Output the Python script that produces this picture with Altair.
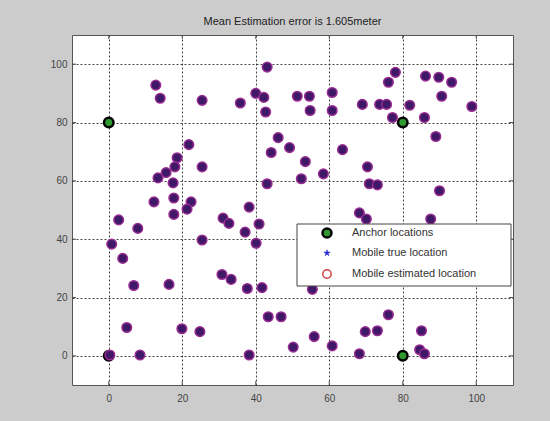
import altair as alt
import pandas as pd

title_text = "Mean Estimation error is 1.605meter"

mob_x = [43.1, 12.8, 14.0, 25.4, 35.8, 40.0, 42.2, 42.7, 51.3, 54.6, 54.8, 60.8, 60.8, 69.0, 73.7,
         75.6, 81.9, 78.0, 76.1, 86.2, 89.8, 93.3, 90.6, 98.8, 77.2, 85.9, 89.0, 63.6, 49.2, 53.5,
         52.4, 58.4, 70.4, 70.9, 73.1, 90.0, 68.2, 70.1, 87.6, 21.8, 46.1, 44.2, 18.6, 18.0, 25.4,
         15.6, 13.4, 17.5, 43.1, 12.3, 17.7, 22.4, 21.3, 17.7, 38.2, 31.1, 32.7, 40.9, 2.7, 7.9,
         0.8, 3.8, 6.8, 16.4, 25.4, 37.1, 40.1, 30.8, 33.3, 37.7, 41.7, 43.4, 46.9, 4.9, 19.9,
         24.8, 0.3, 8.5, 38.2, 50.2, 55.4, 76.1, 69.8, 73.1, 85.1, 55.9, 60.8, 68.2, 84.6, 85.9]
mob_y = [99.0, 92.8, 88.3, 87.6, 86.7, 90.0, 88.6, 83.6, 89.0, 89.0, 84.1, 90.3, 84.1, 86.2, 86.2,
         86.2, 85.9, 97.2, 93.8, 95.9, 95.5, 93.8, 89.0, 85.5, 81.7, 81.7, 75.2, 70.7, 71.4, 66.6,
         60.7, 62.4, 64.8, 59.0, 58.6, 56.6, 49.0, 46.9, 46.9, 72.4, 74.8, 69.7, 67.9, 64.8, 64.8,
         62.8, 61.0, 59.3, 59.0, 52.8, 54.1, 52.8, 50.3, 48.5, 51.0, 47.2, 45.4, 45.2, 46.6, 43.7,
         38.3, 33.4, 24.1, 24.5, 39.7, 42.4, 38.6, 27.9, 26.2, 23.1, 23.4, 13.4, 13.4, 9.7, 9.3,
         8.3, 0.3, 0.3, 0.3, 3.0, 22.8, 14.1, 8.3, 8.6, 8.6, 6.6, 3.4, 0.7, 2.1, 0.7]

anchor_x = [0, 0, 80, 80]
anchor_y = [0, 80, 0, 80]

tick_vals = [0, 20, 40, 60, 80, 100]
legend_labels = ["Anchor locations", "Mobile true location", "Mobile estimated location"]

mob = pd.DataFrame({"x": mob_x, "y": mob_y})
anc = pd.DataFrame({"x": anchor_x, "y": anchor_y})
ticks = pd.DataFrame({"v": tick_vals})

W, H = 441, 350
dom = [-10, 110]

xs = alt.Scale(domain=dom, nice=False, zero=False)
ys = alt.Scale(domain=dom, nice=False, zero=False)

xaxis = alt.Axis(values=tick_vals, title=None, ticks=False, domain=False, labelPadding=8,
                 grid=True, gridDash=[2, 2], gridColor="#222222", gridOpacity=0.85,
                 labelFontSize=10, labelColor="#444444", labelFont="Liberation Sans")
yaxis = alt.Axis(values=tick_vals, title=None, ticks=False, domain=False, labelPadding=5,
                 grid=True, gridDash=[2, 2], gridColor="#222222", gridOpacity=0.85,
                 labelFontSize=10, labelColor="#444444", labelFont="Liberation Sans")

base_grid = alt.Chart(ticks).mark_point(opacity=0).encode(
    x=alt.X("v:Q", scale=xs, axis=xaxis),
    y=alt.Y("v:Q", scale=ys, axis=yaxis),
)

tick_col = "#555555"
xt_bot = alt.Chart(ticks).mark_rule(color=tick_col).encode(
    x=alt.X("v:Q", scale=xs), y=alt.value(H), y2=alt.value(H - 4))
xt_top = alt.Chart(ticks).mark_rule(color=tick_col).encode(
    x=alt.X("v:Q", scale=xs), y=alt.value(0), y2=alt.value(4))
yt_left = alt.Chart(ticks).mark_rule(color=tick_col).encode(
    y=alt.Y("v:Q", scale=ys), x=alt.value(0), x2=alt.value(4))
yt_right = alt.Chart(ticks).mark_rule(color=tick_col).encode(
    y=alt.Y("v:Q", scale=ys), x=alt.value(W), x2=alt.value(W - 4))

anchors = alt.Chart(anc).mark_point(
    shape="circle", filled=True, size=90, fill="#2f9a2f", stroke="#000000",
    strokeWidth=2.5, opacity=1
).encode(x=alt.X("x:Q", scale=xs), y=alt.Y("y:Q", scale=ys))

mobiles = alt.Chart(mob).mark_point(
    shape="circle", filled=True, size=92, fill="#3f1868", stroke="#9a2c92",
    strokeWidth=1.5, opacity=1
).encode(x=alt.X("x:Q", scale=xs), y=alt.Y("y:Q", scale=ys))

leg_df = pd.DataFrame({"label": legend_labels})

legend_box = alt.Chart(leg_df.head(1)).mark_rect(
    fill="white", stroke="#444444", strokeWidth=1
).encode(x=alt.value(225), x2=alt.value(439), y=alt.value(189), y2=alt.value(251))

row_y = [198, 218, 239]
star_path = "M0,-1L0.22,-0.3L0.95,-0.31L0.36,0.12L0.59,0.81L0,0.38L-0.59,0.81L-0.36,0.12L-0.95,-0.31L-0.22,-0.3Z"
leg_anchor = alt.Chart(leg_df.head(1)).mark_point(
    shape="circle", filled=True, size=80, fill="#2f9a2f", stroke="#000000",
    strokeWidth=2.5, opacity=1
).encode(x=alt.value(255), y=alt.value(row_y[0]))
leg_true = alt.Chart(leg_df.head(1)).mark_point(
    shape=star_path, filled=True, size=45, fill="#2a2ad0", stroke="#2a2ad0",
    strokeWidth=0.5, opacity=1
).encode(x=alt.value(255), y=alt.value(row_y[1]))
leg_est = alt.Chart(leg_df.head(1)).mark_point(
    shape="circle", filled=False, size=70, stroke="#d04040", strokeWidth=1.5, opacity=1
).encode(x=alt.value(255), y=alt.value(row_y[2]))

leg_texts = []
for i, lab in enumerate(legend_labels):
    leg_texts.append(
        alt.Chart(leg_df.iloc[[i]]).mark_text(
            align="left", baseline="middle", fontSize=11, color="#333333",
            font="Liberation Sans"
        ).encode(x=alt.value(280), y=alt.value(row_y[i]), text="label:N")
    )

chart = alt.layer(
    base_grid, xt_bot, xt_top, yt_left, yt_right, anchors, mobiles,
    legend_box, leg_anchor, leg_true, leg_est, *leg_texts
).properties(
    width=W, height=H,
    title=alt.TitleParams(title_text, fontSize=11, fontWeight="normal", color="#222222",
                          font="Liberation Sans", offset=8),
    background="#cccccc",
    autosize=alt.AutoSizeParams(type="none"),
    padding={"left": 72, "top": 35, "right": 37, "bottom": 36},
).configure_view(
    fill="white", stroke="#555555", strokeWidth=1
)

chart.save("out.html", embed_options={"renderer": "svg", "actions": False})
